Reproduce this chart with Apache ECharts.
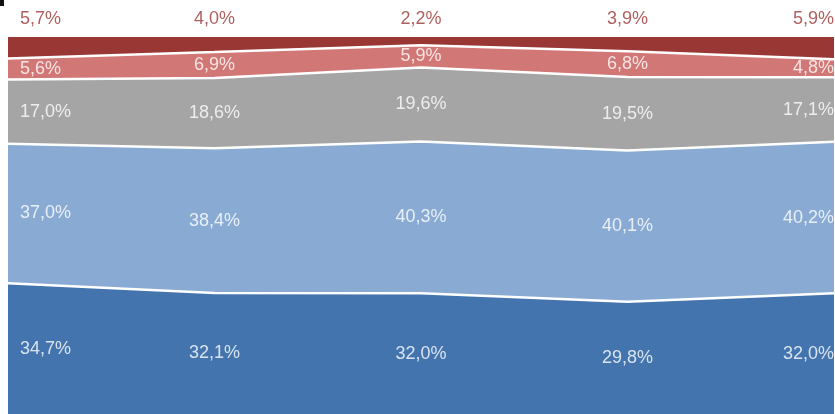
<!DOCTYPE html>
<html>
<head>
<meta charset="utf-8">
<script src="https://cdn.jsdelivr.net/npm/echarts@6/dist/echarts.min.js"></script>
<style>
  html, body { margin: 0; padding: 0; background: #fff; }
  #chart { width: 835px; height: 414px; }
</style>
</head>
<body>
<div id="chart"></div>
<script>
// categories (no visible labels in the picture)
const categories = ['1', '2', '3', '4', '5']
// layers, bottom to top
const darkBlue = [34.7, 32.1, 32.0, 29.8, 32.0]
const lightBlue = [37.0, 38.4, 40.3, 40.1, 40.2]
const gray = [17.0, 18.6, 19.6, 19.5, 17.1]
const lightRed = [5.6, 6.9, 5.9, 6.8, 4.8]
const darkRed = [5.7, 4.0, 2.2, 3.9, 5.9]

const layers = [darkBlue, lightBlue, gray, lightRed, darkRed]
const colors = ['#4374ae', '#89abd3', '#a5a5a5', '#d17876', '#993735']
const labelColors = ['#fff', '#fff', '#fff', '#fff', '#993735']

const chart = echarts.init(document.getElementById('chart'))

const fmt = v => v.toFixed(1).replace('.', ',') + '%'

const series = []
// filled areas
layers.forEach((d, i) => {
  series.push({
    type: 'line', stack: 'area', data: d, showSymbol: false, silent: true,
    lineStyle: { width: 0 }, areaStyle: { color: colors[i], opacity: 1 },
    z: 2
  })
})
// white separator lines
layers.slice(0, 4).forEach(d => {
  series.push({
    type: 'line', stack: 'line', data: d, showSymbol: false, silent: true,
    lineStyle: { color: '#fff', width: 2.5 }, z: 3
  })
})
// labels at band centres (top band: above the area)
let cum = [0, 0, 0, 0, 0]
layers.forEach((d, i) => {
  const top = i === layers.length - 1
  const pts = d.map((v, j) => {
    const y = top ? 100 : cum[j] + v / 2
    const item = { value: [j, y], raw: v }
    if (j === 0) item.label = { align: 'left', offset: [12, 0] }
    if (j === d.length - 1) item.label = { align: 'right', offset: [0, 0] }
    return item
  })
  cum = cum.map((c, j) => c + d[j])
  series.push({
    type: 'scatter', data: pts, symbolSize: 0, silent: true, z: 4, clip: false,
    label: {
      show: true, position: top ? 'top' : 'inside', distance: 9,
      color: labelColors[i], fontFamily: 'Liberation Sans, Arial, sans-serif', fontSize: 18,
      formatter: p => fmt(p.data.raw)
    }
  })
})

const option = {
  animation: false,
  grid: { left: 8, right: 1, top: 37, bottom: -6 },
  xAxis: { type: 'category', data: categories, boundaryGap: false, show: false },
  yAxis: { type: 'value', min: 0, max: 100, show: false },
  graphic: [{ type: 'rect', left: 0, top: 0, shape: { width: 4, height: 6 }, style: { fill: '#111' } }],
  series: series
}
chart.setOption(option)
</script>
</body>
</html>
